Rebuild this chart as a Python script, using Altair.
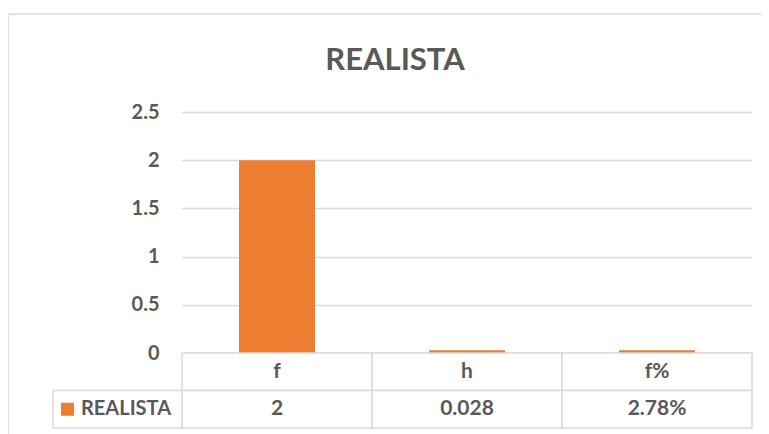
import altair as alt
import pandas as pd

series_name = "REALISTA"
categories = ["f", "h", "f%"]
values = [2, 0.028, 0.0278]
value_labels = ["2", "0.028", "2.78%"]
y_ticks = [0, 0.5, 1, 1.5, 2, 2.5]

TEXT = "#595959"
GRID = "#D9D9D9"
ORANGE = "#ED7D31"
FONT = "Lato"

bars_df = pd.DataFrame({"category": categories, "value": values})
table_df = pd.DataFrame(
    {
        "category": categories * 2,
        "row": ["header"] * len(categories) + [series_name] * len(categories),
        "text": categories + value_labels,
    }
)
legend_df = pd.DataFrame({"row": [series_name], "text": [series_name]})
one = pd.DataFrame({"k": [0]})

x_enc = alt.X(
    "category:N",
    sort=categories,
    scale=alt.Scale(domain=categories, paddingInner=0, paddingOuter=0),
    axis=None,
)
row_scale = alt.Scale(domain=["header", series_name], range=[241, 316], paddingInner=0, paddingOuter=0)

bars = alt.Chart(bars_df).mark_bar(color=ORANGE, width={"band": 0.4}).encode(
    x=x_enc,
    y=alt.Y(
        "value:Q",
        scale=alt.Scale(domain=[0, 2.5], range=[241, 0], nice=False, zero=True),
        axis=alt.Axis(
            orient="left",
            values=y_ticks,
            format="~g",
            title=None,
            grid=True,
            gridColor=GRID,
            gridWidth=1.5,
            domain=False,
            ticks=False,
            labelPadding=23,
            labelFont=FONT,
            labelFontSize=20,
            labelFontWeight="bold",
            labelColor=TEXT,
        ),
    ),
)

cells = alt.Chart(table_df).mark_rect(fill="white", stroke=GRID, strokeWidth=1.5).encode(
    x=x_enc,
    y=alt.Y("row:N", scale=row_scale, axis=None),
)

cell_text = alt.Chart(table_df).mark_text(
    font=FONT, fontSize=21, fontWeight="bold", color=TEXT, baseline="middle", align="center"
).encode(
    x=x_enc,
    y=alt.Y("row:N", scale=row_scale, axis=None),
    text="text:N",
)

legend_cell = alt.Chart(legend_df).mark_rect(fill="white", stroke=GRID, strokeWidth=1.5).encode(
    x=alt.value(-129),
    x2=alt.value(0),
    y=alt.Y("row:N", scale=row_scale, axis=None),
)

legend_swatch = alt.Chart(legend_df).mark_point(
    shape="square", filled=True, color=ORANGE, size=169, opacity=1
).encode(
    x=alt.value(-114.5),
    y=alt.Y("row:N", scale=row_scale, axis=None),
)

legend_text = alt.Chart(legend_df).mark_text(
    font=FONT, fontSize=20, fontWeight="bold", color=TEXT, baseline="middle", align="left"
).encode(
    x=alt.value(-101),
    y=alt.Y("row:N", scale=row_scale, axis=None),
    text="text:N",
)

title = alt.Chart(legend_df).mark_text(
    font=FONT, fontSize=31, fontWeight="bold", color=TEXT, baseline="alphabetic", align="center"
).encode(
    x=alt.value(213),
    y=alt.value(-42),
    text="text:N",
)

frame_top = alt.Chart(one).mark_rule(color=GRID, strokeWidth=1.5).encode(
    x=alt.value(-174), x2=alt.value(590), y=alt.value(-98)
)
frame_left = alt.Chart(one).mark_rule(color=GRID, strokeWidth=1.5).encode(
    x=alt.value(-174), y=alt.value(-98), y2=alt.value(330)
)

chart = (
    alt.layer(frame_top, frame_left, title, bars, cells, cell_text, legend_cell, legend_swatch, legend_text)
    .resolve_scale(y="independent")
    .properties(
        width=570,
        height=316,
        background="white",
        autosize=alt.AutoSizeParams(type="none"),
        padding={"left": 174, "top": 104, "right": 9, "bottom": 6},
    )
    .configure_view(stroke=None, strokeWidth=0)
    .configure_axis(domain=False, ticks=False)
)

chart.save("out.html", embed_options={"renderer": "svg", "actions": False})
